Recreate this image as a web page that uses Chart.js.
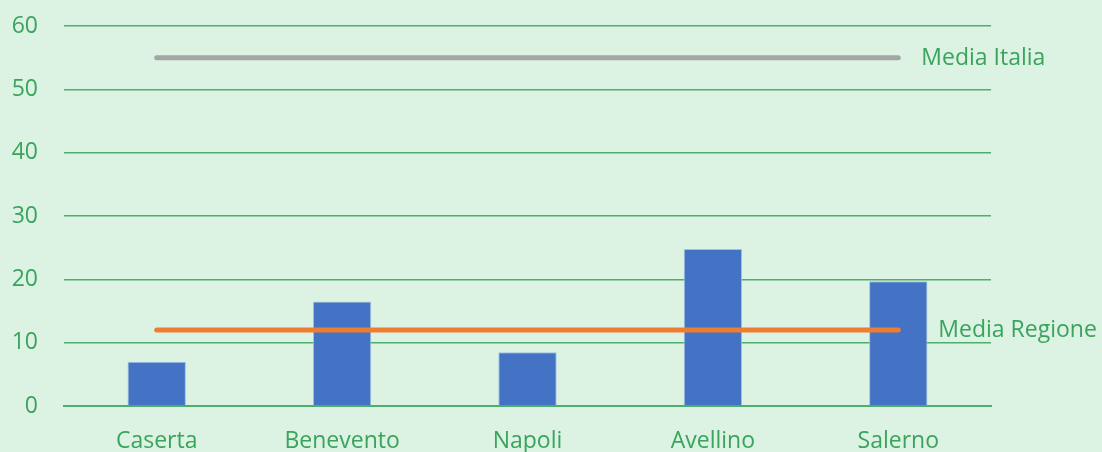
<!DOCTYPE html>
<html>
<head>
<meta charset="utf-8">
<script src="https://cdn.jsdelivr.net/npm/chart.js@4"></script>
<style>
  html, body { margin: 0; padding: 0; background: #dcf3e3; }
  #wrap { width: 1102px; height: 452px; }
</style>
</head>
<body>
<div id="wrap"><canvas id="c" width="1102" height="452"></canvas></div>
<script>
// province e valori
const provinces = ['Caserta', 'Benevento', 'Napoli', 'Avellino', 'Salerno'];
const values = [7.0, 16.5, 8.5, 24.8, 19.7];
const mediaItalia = [55, 55, 55, 55, 55];
const mediaRegione = [12, 12, 12, 12, 12];
const lineLabels = ['Media Italia', 'Media Regione'];

const green = '#3aa35c';
const gridGreen = '#4daf6b';
const fontFamily = '"Open Sans", "Noto Sans", sans-serif';

Chart.defaults.font.family = fontFamily;
Chart.defaults.font.size = 23;
Chart.defaults.color = green;

// scrive "Media Italia" / "Media Regione" a destra delle linee
const lineLabelPlugin = {
  id: 'lineLabels',
  afterDatasetsDraw(chart) {
    const { ctx, scales } = chart;
    ctx.save();
    ctx.font = '23px ' + fontFamily;
    ctx.fillStyle = green;
    ctx.textBaseline = 'middle';
    ctx.textAlign = 'left';
    const last = provinces.length - 1;
    const x0 = scales.x.getPixelForValue(last);
    ctx.fillText(lineLabels[0], x0 + 23, scales.y.getPixelForValue(mediaItalia[last]) + 1);
    ctx.fillText(lineLabels[1], x0 + 40, scales.y.getPixelForValue(mediaRegione[last]));
    ctx.restore();
  }
};

new Chart(document.getElementById('c'), {
  type: 'bar',
  data: {
    labels: provinces,
    datasets: [
      {
        type: 'line',
        label: lineLabels[0],
        data: mediaItalia,
        borderColor: '#a5a5a5',
        borderWidth: 5,
        borderCapStyle: 'round',
        pointRadius: 0,
        order: 1
      },
      {
        type: 'line',
        label: lineLabels[1],
        data: mediaRegione,
        borderColor: '#ed7d31',
        borderWidth: 5,
        borderCapStyle: 'round',
        pointRadius: 0,
        order: 1
      },
      {
        label: 'Valore',
        data: values,
        backgroundColor: '#4472c4',
        borderColor: '#9fc3e0',
        borderWidth: 1,
        categoryPercentage: 1,
        barPercentage: 0.315,
        order: 3
      }
    ]
  },
  options: {
    responsive: false,
    animation: false,
    layout: { padding: { top: 0, right: 111, left: 0, bottom: 0 } },
    plugins: {
      legend: { display: false },
      tooltip: { enabled: false }
    },
    scales: {
      x: {
        grid: { display: false },
        border: { display: true, color: gridGreen, width: 2 },
        ticks: { color: green, padding: 14, font: { size: 23 } },
        afterFit(scale) { scale.height = 46; }
      },
      y: {
        min: 0,
        max: 60,
        ticks: { stepSize: 10, color: green, padding: 26, font: { size: 23 } },
        grid: { color: gridGreen, lineWidth: 1.5, drawTicks: false },
        border: { display: false },
        afterFit(scale) {
          scale.width = 64;
          scale.paddingTop = 26;
          scale.paddingBottom = 0;
        }
      }
    }
  },
  plugins: [lineLabelPlugin]
});
</script>
</body>
</html>
